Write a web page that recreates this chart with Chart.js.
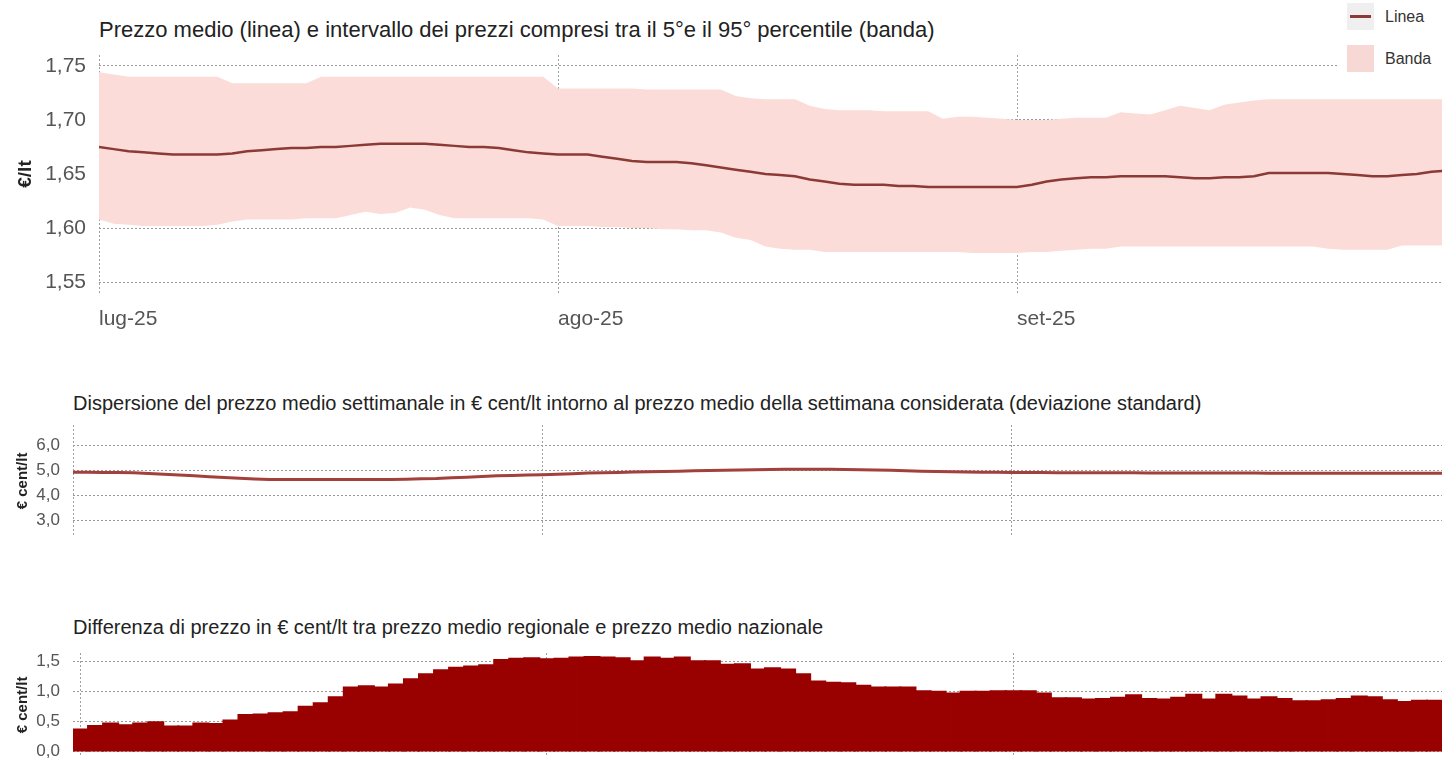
<!DOCTYPE html>
<html lang="it">
<head>
<meta charset="utf-8">
<title>Prezzi medi regionali</title>
<script src="https://cdn.jsdelivr.net/npm/chart.js@4.4.0/dist/chart.umd.min.js"></script>
<style>
  body {
    margin: 0;
    width: 1442px;
    height: 780px;
    overflow: hidden;
    background: #fff;
    position: relative;
    font-family: "Liberation Sans", Arial, sans-serif;
  }
  .titolo {
    position: absolute;
    color: #222;
    white-space: nowrap;
  }
  .box {
    position: absolute;
  }
  #legenda {
    position: absolute;
    left: 1338px;
    top: 0;
    width: 104px;
    height: 80px;
    background: #fff;
  }
  .chiave {
    position: absolute;
    left: 9px;
    width: 27px;
    height: 27px;
  }
  .voce {
    position: absolute;
    left: 47px;
    font-size: 16px;
    color: #333;
    line-height: 18px;
  }
</style>
</head>
<body>

<div class="titolo" style="left:99px; top:19px; font-size:22px; line-height:22px;">Prezzo medio (linea) e intervallo dei prezzi compresi tra il 5°e il 95° percentile (banda)</div>
<div class="box" style="left:0; top:0; width:1442px; height:340px;"><canvas id="graficoPrezzo"></canvas></div>

<div id="legenda">
  <div class="chiave" style="top:3px; background:#efefef;">
    <div style="position:absolute; left:3px; top:12px; width:21px; height:3px; background:#8b3a36;"></div>
  </div>
  <div class="voce" style="top:8px;">Linea</div>
  <div class="chiave" style="top:45px; background:#f8d8d4;"></div>
  <div class="voce" style="top:50px;">Banda</div>
</div>

<div class="titolo" style="left:73px; top:393px; font-size:20px; line-height:20px;">Dispersione del prezzo medio settimanale in € cent/lt intorno al prezzo medio della settimana considerata (deviazione standard)</div>
<div class="box" style="left:0; top:380px; width:1442px; height:180px;"><canvas id="graficoDispersione"></canvas></div>

<div class="titolo" style="left:73px; top:617px; font-size:20px; line-height:20px;">Differenza di prezzo in € cent/lt tra prezzo medio regionale e prezzo medio nazionale</div>
<div class="box" style="left:0; top:600px; width:1442px; height:180px;"><canvas id="graficoDifferenza"></canvas></div>

<script>
// giorni dal 1 luglio 2025; tacche di inizio mese
const inizioMese = [0, 31, 62];
const etichetteMesi = ["lug-25", "ago-25", "set-25"];

// prezzo medio giornaliero €/lt (1 lug - 30 set)
const prezzoMedio = [
  1.675, 1.673, 1.671, 1.670, 1.669, 1.668, 1.668, 1.668, 1.668, 1.669,
  1.671, 1.672, 1.673, 1.674, 1.674, 1.675, 1.675, 1.676, 1.677, 1.678,
  1.678, 1.678, 1.678, 1.677, 1.676, 1.675, 1.675, 1.674, 1.672, 1.670,
  1.669, 1.668, 1.668, 1.668, 1.666, 1.664, 1.662, 1.661, 1.661, 1.661,
  1.660, 1.658, 1.656, 1.654, 1.652, 1.650, 1.649, 1.648, 1.645, 1.643,
  1.641, 1.640, 1.640, 1.640, 1.639, 1.639, 1.638, 1.638, 1.638, 1.638,
  1.638, 1.638, 1.638, 1.640, 1.643, 1.645, 1.646, 1.647, 1.647, 1.648,
  1.648, 1.648, 1.648, 1.647, 1.646, 1.646, 1.647, 1.647, 1.648, 1.651,
  1.651, 1.651, 1.651, 1.651, 1.650, 1.649, 1.648, 1.648, 1.649, 1.650,
  1.652, 1.653
];

// 95° percentile
const bandaSuperiore = [
  1.744, 1.742, 1.740, 1.740, 1.740, 1.740, 1.740, 1.740, 1.740, 1.734,
  1.734, 1.734, 1.734, 1.734, 1.734, 1.740, 1.740, 1.740, 1.740, 1.740,
  1.740, 1.740, 1.740, 1.740, 1.740, 1.740, 1.740, 1.740, 1.740, 1.740,
  1.740, 1.729, 1.729, 1.729, 1.729, 1.729, 1.729, 1.728, 1.728, 1.728,
  1.728, 1.728, 1.728, 1.722, 1.720, 1.719, 1.719, 1.719, 1.713, 1.710,
  1.709, 1.709, 1.709, 1.708, 1.708, 1.708, 1.708, 1.701, 1.703, 1.703,
  1.702, 1.701, 1.700, 1.700, 1.700, 1.701, 1.702, 1.702, 1.702, 1.707,
  1.706, 1.705, 1.709, 1.713, 1.711, 1.709, 1.714, 1.716, 1.718, 1.719,
  1.719, 1.719, 1.719, 1.719, 1.719, 1.719, 1.719, 1.719, 1.719, 1.719,
  1.719, 1.719
];

// 5° percentile
const bandaInferiore = [
  1.608, 1.604, 1.603, 1.602, 1.602, 1.602, 1.602, 1.602, 1.603, 1.606,
  1.608, 1.608, 1.608, 1.608, 1.609, 1.609, 1.609, 1.612, 1.615, 1.613,
  1.614, 1.619, 1.617, 1.612, 1.609, 1.609, 1.609, 1.609, 1.609, 1.609,
  1.608, 1.602, 1.602, 1.602, 1.601, 1.601, 1.600, 1.600, 1.599, 1.599,
  1.598, 1.598, 1.596, 1.591, 1.589, 1.583, 1.581, 1.580, 1.580, 1.578,
  1.578, 1.578, 1.578, 1.578, 1.578, 1.578, 1.578, 1.578, 1.578, 1.577,
  1.577, 1.577, 1.577, 1.578, 1.578, 1.579, 1.580, 1.581, 1.581, 1.583,
  1.583, 1.583, 1.583, 1.583, 1.583, 1.583, 1.583, 1.583, 1.583, 1.583,
  1.583, 1.583, 1.583, 1.581, 1.580, 1.580, 1.580, 1.580, 1.584, 1.584,
  1.584, 1.584
];

// deviazione standard, € cent/lt
const dispersione = [
  4.92, 4.92, 4.91, 4.91, 4.90, 4.87, 4.84, 4.81, 4.78, 4.74,
  4.71, 4.68, 4.65, 4.63, 4.63, 4.63, 4.63, 4.63, 4.63, 4.63,
  4.63, 4.63, 4.64, 4.66, 4.67, 4.70, 4.72, 4.75, 4.78, 4.79,
  4.81, 4.82, 4.84, 4.86, 4.89, 4.90, 4.91, 4.93, 4.94, 4.95,
  4.96, 4.98, 4.99, 5.00, 5.01, 5.02, 5.03, 5.04, 5.04, 5.04,
  5.04, 5.03, 5.02, 5.01, 5.00, 4.98, 4.96, 4.95, 4.94, 4.93,
  4.92, 4.92, 4.91, 4.91, 4.91, 4.90, 4.90, 4.90, 4.90, 4.90,
  4.90, 4.89, 4.89, 4.89, 4.89, 4.89, 4.89, 4.89, 4.89, 4.88,
  4.88, 4.88, 4.88, 4.88, 4.88, 4.88, 4.88, 4.88, 4.88, 4.88,
  4.88, 4.88
];

// differenza regionale - nazionale, € cent/lt
const differenza = [
  0.36, 0.42, 0.46, 0.43, 0.46, 0.48, 0.41, 0.41, 0.46, 0.45,
  0.51, 0.60, 0.61, 0.63, 0.65, 0.74, 0.80, 0.90, 1.06, 1.08,
  1.06, 1.11, 1.20, 1.28, 1.35, 1.39, 1.41, 1.43, 1.52, 1.54,
  1.55, 1.53, 1.54, 1.56, 1.57, 1.56, 1.55, 1.50, 1.56, 1.54,
  1.56, 1.50, 1.50, 1.44, 1.45, 1.36, 1.38, 1.36, 1.28, 1.16,
  1.14, 1.13, 1.09, 1.06, 1.06, 1.06, 1.00, 0.99, 0.96, 0.99,
  0.99, 1.00, 1.00, 1.00, 0.96, 0.88, 0.88, 0.86, 0.87, 0.89,
  0.93, 0.87, 0.86, 0.89, 0.94, 0.86, 0.94, 0.91, 0.86, 0.90,
  0.87, 0.83, 0.83, 0.85, 0.87, 0.91, 0.90, 0.85, 0.82, 0.84,
  0.84
];

const tickPrezzo = [1.55, 1.60, 1.65, 1.70, 1.75];
const tickDispersione = [3, 4, 5, 6];
const tickDifferenza = [0, 0.5, 1, 1.5];

Chart.defaults.font.family = "'Liberation Sans', Arial, sans-serif";
Chart.defaults.animation = false;
Chart.defaults.maintainAspectRatio = false;
Chart.defaults.plugins.legend.display = false;
Chart.defaults.plugins.tooltip.enabled = false;

const punti = (valori) => valori.map((v, i) => ({ x: i, y: v }));
const virgola = (v, dec) => v.toFixed(dec).replace(".", ",");

function assePeriodo(min, max, mostraEtichette) {
  return {
    type: "linear",
    min: min,
    max: max,
    offset: false,
    afterBuildTicks: (axis) => {
      axis.ticks = inizioMese.map((v) => ({ value: v }));
    },
    afterFit: (axis) => {
      axis.height = mostraEtichette ? 47 : 0;
    },
    ticks: {
      display: mostraEtichette,
      callback: (v) => etichetteMesi[inizioMese.indexOf(v)],
      align: "start",
      color: "#555",
      font: { size: 21 },
      padding: 14,
      maxRotation: 0,
      autoSkip: false,
    },
    grid: { color: "#a0a0a0", drawTicks: false, offset: false },
    border: { display: false, dash: [2, 2] },
  };
}

function asseValori(min, max, valoriTick, dec, larghezza, titolo, fontTick, fontTitolo) {
  return {
    min: min,
    max: max,
    afterBuildTicks: (axis) => {
      axis.ticks = valoriTick.map((v) => ({ value: v }));
    },
    afterFit: (axis) => {
      axis.width = larghezza;
    },
    ticks: {
      callback: (v) => virgola(v, dec),
      color: "#555",
      font: { size: fontTick },
      padding: 13,
    },
    title: {
      display: true,
      text: titolo,
      color: "#222",
      font: fontTitolo,
      padding: { top: 14, bottom: 0 },
    },
    grid: { color: "#9a9a9a", drawTicks: false },
    border: { display: false, dash: [2, 2] },
  };
}

new Chart(document.getElementById("graficoPrezzo"), {
  type: "line",
  data: {
    datasets: [
      {
        label: "Linea",
        data: punti(prezzoMedio),
        borderColor: "#8b3a36",
        borderWidth: 2.5,
        pointRadius: 0,
        fill: false,
        order: 0,
      },
      {
        label: "Banda",
        data: punti(bandaSuperiore),
        fill: "+1",
        backgroundColor: "#fbdcd8",
        borderWidth: 0,
        pointRadius: 0,
        order: 1,
      },
      {
        label: "Banda inf",
        data: punti(bandaInferiore),
        fill: false,
        borderWidth: 0,
        pointRadius: 0,
        order: 2,
      },
    ],
  },
  options: {
    layout: { padding: { top: 55, right: 0, bottom: 0, left: 0 } },
    scales: {
      x: assePeriodo(0, 90.7, true),
      y: asseValori(1.54, 1.76, tickPrezzo, 2, 99, "€/lt", 21, { size: 19, weight: "bold" }),
    },
  },
});

new Chart(document.getElementById("graficoDispersione"), {
  type: "line",
  data: {
    datasets: [
      {
        label: "Deviazione standard",
        data: punti(dispersione),
        borderColor: "#a2403c",
        borderWidth: 3,
        pointRadius: 0,
        fill: false,
      },
    ],
  },
  options: {
    layout: { padding: { top: 45, right: 0, bottom: 8, left: 0 } },
    scales: {
      x: assePeriodo(0, 90.4, false),
      y: asseValori(2.33, 6.81, tickDispersione, 1, 73, "€ cent/lt", 17, { size: 15, weight: "bold" }),
    },
  },
});

new Chart(document.getElementById("graficoDifferenza"), {
  type: "bar",
  data: {
    datasets: [
      {
        label: "Differenza",
        data: punti(differenza),
        backgroundColor: "#990000",
        borderWidth: 0,
        inflateAmount: 1,
        barPercentage: 1,
        categoryPercentage: 1,
      },
    ],
  },
  options: {
    layout: { padding: { top: 53, right: 0, bottom: 0, left: 0 } },
    scales: {
      x: assePeriodo(-0.5, 90.5, false),
      y: asseValori(-0.095, 1.636, tickDifferenza, 1, 73, "€ cent/lt", 17, { size: 15, weight: "bold" }),
    },
  },
});
</script>
</body>
</html>
